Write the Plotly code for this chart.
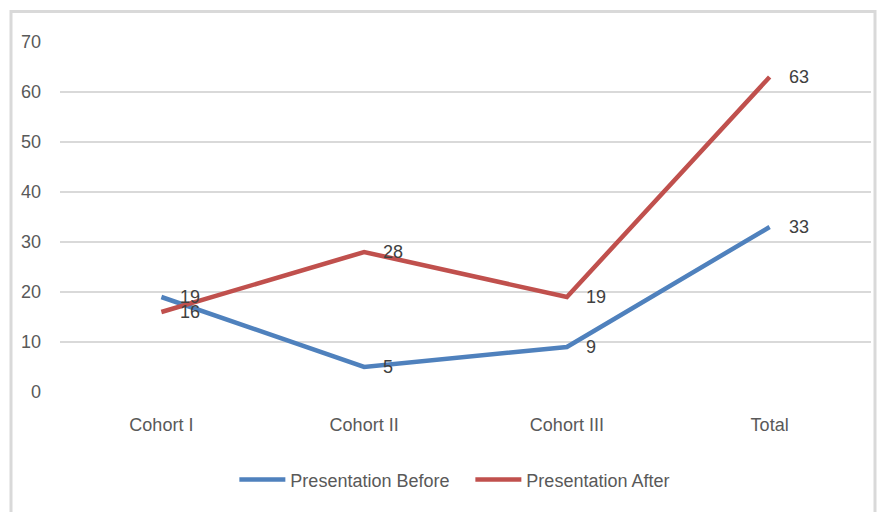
import plotly.graph_objects as go

categories = ["Cohort I", "Cohort II", "Cohort III", "Total"]
before = [19, 5, 9, 33]
after = [16, 28, 19, 63]
y_ticks = [0, 10, 20, 30, 40, 50, 60, 70]

FONT = "Liberation Sans, Arial, sans-serif"
FS = 18
BLUE = "#4F81BD"
RED = "#C0504D"

fig = go.Figure()
fig.add_trace(go.Scatter(x=categories, y=before, mode="lines", name="Presentation Before",
                         line=dict(color=BLUE, width=4.5)))
fig.add_trace(go.Scatter(x=categories, y=after, mode="lines", name="Presentation After",
                         line=dict(color=RED, width=4.5)))

# value labels to the right of each point
for series in (before, after):
    for cat, val in zip(categories, series):
        fig.add_annotation(x=cat, y=val, text=str(val), showarrow=False,
                           xanchor="left", yanchor="middle", xshift=17,
                           font=dict(family=FONT, size=FS, color="#404040"))

# light chart frame
L, R, T, B = 60, 871, 41.5, 392
pw, ph = R - L, B - T
fig.add_shape(type="rect", xref="paper", yref="paper",
              x0=(11 - L) / pw, x1=(875 - L) / pw,
              y0=(B - 560) / ph, y1=(B - 11) / ph,
              line=dict(color="#D9D9D9", width=3), fillcolor="rgba(0,0,0,0)", layer="below")

fig.update_layout(
    width=884, height=512,
    margin=dict(l=L, r=884 - R, t=T, b=512 - B),
    paper_bgcolor="white", plot_bgcolor="white",
    font=dict(family=FONT, size=FS, color="#595959"),
    showlegend=True,
    legend=dict(orientation="h", x=0.506, xanchor="center", y=(B - 480) / ph, yanchor="middle",
                font=dict(family=FONT, size=FS, color="#595959"),
                itemwidth=46, entrywidth=175, bgcolor="rgba(0,0,0,0)"),
    xaxis=dict(type="category", range=[-0.5, 3.5], showgrid=False, zeroline=False,
               showline=False, ticks="", ticklabelstandoff=20,
               tickfont=dict(family=FONT, size=FS, color="#595959")),
    yaxis=dict(range=[0, 70], tickvals=y_ticks, showgrid=True, gridcolor="#D9D9D9", gridwidth=1.5,
               zeroline=False, showline=False, ticks="", ticklabelstandoff=18,
               tickfont=dict(family=FONT, size=FS, color="#595959")),
)

fig.write_html("out.html")
